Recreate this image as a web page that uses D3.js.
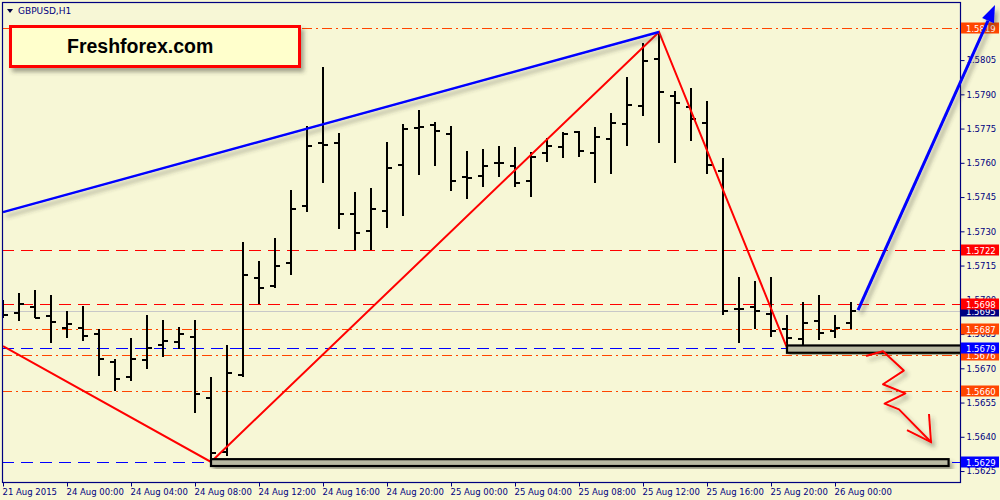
<!DOCTYPE html>
<html>
<head>
<meta charset="utf-8">
<script src="https://cdn.jsdelivr.net/npm/d3@7"></script>
<style>
  html, body { margin: 0; padding: 0; background: #f7f7d6; }
  svg { display: block; }
  .axis text { font-family: "DejaVu Sans", sans-serif; font-size: 8.5px; fill: #000080; }
  .axis line, .axis path { stroke: #000080; }
</style>
</head>
<body>
<div id="chart"></div>
<script>
// GBPUSD H1 bars, 21 Aug 2015 20:00 .. 26 Aug 2015 01:00
var opens  = [1.56955,1.56942,1.56968,1.56929,1.56876,1.56876,1.56850,1.56727,1.56662,1.56736,
              1.56802,1.56815,1.56837,1.56570,1.56333,1.56670,1.57095,1.57060,1.57161,1.57411,
              1.57687,1.57687,1.57376,1.57301,1.57389,1.57590,1.57752,1.57765,1.57726,1.57538,
              1.57542,1.57599,1.57586,1.57520,1.57643,1.57669,1.57735,1.57643,1.57704,1.57770,
              1.57849,1.58054,1.57892,1.57844,1.57774,1.57564,1.56960,1.56968,1.56938,1.56872,
              1.56828,1.56907,1.56863,1.56898];
var highs  = [1.56999,1.57030,1.57043,1.57021,1.56951,1.56973,1.56872,1.56741,1.56832,1.56933,
              1.56911,1.56881,1.56911,1.56662,1.56802,1.57253,1.57170,1.57270,1.57481,1.57761,
              1.58019,1.57730,1.57472,1.57489,1.57691,1.57770,1.57831,1.57778,1.57761,1.57652,
              1.57660,1.57673,1.57669,1.57647,1.57708,1.57735,1.57739,1.57757,1.57818,1.57976,
              1.58125,1.58173,1.57914,1.57927,1.57870,1.57621,1.57100,1.57082,1.57100,1.56933,
              1.56990,1.57021,1.56933,1.56990];
var lows   = [1.56920,1.56907,1.56920,1.56811,1.56832,1.56819,1.56666,1.56600,1.56644,1.56697,
              1.56749,1.56784,1.56504,1.56290,1.56316,1.56662,1.56981,1.57051,1.57108,1.57384,
              1.57511,1.57310,1.57218,1.57218,1.57314,1.57367,1.57546,1.57586,1.57476,1.57441,
              1.57494,1.57538,1.57494,1.57450,1.57603,1.57621,1.57625,1.57511,1.57551,1.57673,
              1.57805,1.57687,1.57599,1.57695,1.57551,1.56933,1.56811,1.56872,1.56837,1.56790,
              1.56790,1.56824,1.56832,1.56872];
var closes = [1.56933,1.56981,1.56920,1.56903,1.56894,1.56841,1.56741,1.56653,1.56741,1.56789,
              1.56819,1.56850,1.56587,1.56329,1.56679,1.57108,1.57051,1.57148,1.57397,1.57673,
              1.57678,1.57376,1.57292,1.57397,1.57577,1.57748,1.57757,1.57739,1.57520,1.57533,
              1.57586,1.57599,1.57511,1.57625,1.57673,1.57726,1.57652,1.57713,1.57774,1.57853,
              1.58046,1.57910,1.57862,1.57792,1.57590,1.56951,1.56960,1.56951,1.56863,1.56832,
              1.56898,1.56854,1.56876,1.56950];

var timeLabels = ["21 Aug 2015","24 Aug 00:00","24 Aug 04:00","24 Aug 08:00","24 Aug 12:00",
                  "24 Aug 16:00","24 Aug 20:00","25 Aug 00:00","25 Aug 04:00","25 Aug 08:00",
                  "25 Aug 12:00","25 Aug 16:00","25 Aug 20:00","26 Aug 00:00"];
var timeLabelBars = [0,4,8,12,16,20,24,28,32,36,40,44,48,52];

var priceTicks = [1.5625,1.5640,1.5655,1.5670,1.5685,1.5700,1.5715,1.5730,1.5745,1.5760,1.5775,1.5790,1.5805];

// horizontal levels
var levelPrices = [1.5819,1.5722,1.5698,1.5687,1.5676,1.5679,1.5660,1.5629];
var levelKinds  = ["dashdot","dash","dash","dashdot","dashdot","dash","dashdot","dash"];
var levelColors = ["#ff4500","#ff0000","#ff0000","#ff4500","#ff4500","#0000ff","#ff4500","#0000ff"];
var bidPrice = 1.5695;

// drawn objects: [bar index, price]
var blueTrend  = [[0, 1.57384],[41, 1.58173]];
var redZigzag  = [[0, 1.56797],[13, 1.5629],[41, 1.58173],[49, 1.5679]];
var blueArrow  = [[53.44, 1.56955],[62, 1.58291]];
var redSquiggle = [[53.94,1.56754],[55.0,1.56775],[56.3,1.56690],[55.0,1.56630],
                   [56.4,1.56590],[55.1,1.56545],[56.0,1.56520],[58,1.56377]];
var boxes = [[[49, 1.56800],[60.2, 1.56768]], [[13, 1.56302],[59.1, 1.56272]]];

var W = 1000, H = 500;
var plot = {left: 2, top: 2, right: 960, bottom: 482};

var svg = d3.select("#chart").append("svg").attr("width", W).attr("height", H);
svg.append("rect").attr("width", W).attr("height", H).attr("fill", "#f7f7d6");

var defs = svg.append("defs");
var f = defs.append("filter").attr("id", "shadow").attr("x", "-20%").attr("y", "-20%").attr("width", "150%").attr("height", "150%");
f.append("feDropShadow").attr("dx", 3).attr("dy", 4).attr("stdDeviation", 2.2)
  .attr("flood-color", "#404030").attr("flood-opacity", 0.45);
defs.append("clipPath").attr("id", "plotclip").append("rect")
  .attr("x", plot.left + 1).attr("y", plot.top + 1)
  .attr("width", plot.right - plot.left - 1).attr("height", plot.bottom - plot.top - 1);

var x = d3.scaleLinear().domain([0, 60]).range([3, 963]);
var y = d3.scaleLinear().domain([1.56202, 1.58300]).range([482, 3]);

var inner = svg.append("g").attr("clip-path", "url(#plotclip)");

// level lines
var dashes = {dash: "12,7", dashdot: "10,4,2,4"};
inner.append("line")
  .attr("x1", plot.left).attr("x2", plot.right)
  .attr("y1", Math.round(y(bidPrice)) + 0.5).attr("y2", Math.round(y(bidPrice)) + 0.5)
  .attr("stroke", "#c8c8c8").attr("stroke-width", 1);
levelPrices.forEach(function (p, i) {
  var yy = Math.round(y(p)) + 0.5;
  inner.append("line")
    .attr("x1", plot.left).attr("x2", plot.right)
    .attr("y1", yy).attr("y2", yy)
    .attr("stroke", levelColors[i]).attr("stroke-width", 1)
    .attr("stroke-dasharray", dashes[levelKinds[i]]);
});

// OHLC bars
var bars = d3.range(opens.length).map(function (i) {
  return {i: i, o: opens[i], h: highs[i], l: lows[i], c: closes[i]};
});
var bg = inner.append("g").attr("stroke", "#000").attr("shape-rendering", "crispEdges");
bg.selectAll("line.hl").data(bars).enter().append("line")
  .attr("x1", function (d) { return Math.round(x(d.i)); })
  .attr("x2", function (d) { return Math.round(x(d.i)); })
  .attr("y1", function (d) { return Math.round(y(d.h)); })
  .attr("y2", function (d) { return Math.round(y(d.l)); })
  .attr("stroke-width", 2);
bg.selectAll("line.op").data(bars).enter().append("line")
  .attr("x1", function (d) { return Math.round(x(d.i)) - 5; })
  .attr("x2", function (d) { return Math.round(x(d.i)); })
  .attr("y1", function (d) { return Math.round(y(d.o)); })
  .attr("y2", function (d) { return Math.round(y(d.o)); })
  .attr("stroke-width", 2);
bg.selectAll("line.cl").data(bars).enter().append("line")
  .attr("x1", function (d) { return Math.round(x(d.i)); })
  .attr("x2", function (d) { return Math.round(x(d.i)) + 5; })
  .attr("y1", function (d) { return Math.round(y(d.c)); })
  .attr("y2", function (d) { return Math.round(y(d.c)); })
  .attr("stroke-width", 2);

var line = d3.line().x(function (d) { return x(d[0]); }).y(function (d) { return y(d[1]); });

inner.append("path").datum(redZigzag).attr("d", line)
  .attr("fill", "none").attr("stroke", "#ff0000").attr("stroke-width", 2);
inner.append("path").datum(blueTrend).attr("d", line)
  .attr("fill", "none").attr("stroke", "#0000ff").attr("stroke-width", 2.5)
  .attr("filter", "url(#shadow)");

// rectangles (unclipped, they run over the price scale)
boxes.forEach(function (b) {
  svg.append("rect")
    .attr("x", x(b[0][0])).attr("y", y(b[0][1]))
    .attr("width", x(b[1][0]) - x(b[0][0]))
    .attr("height", y(b[1][1]) - y(b[0][1]))
    .attr("fill", "#b9b9a2").attr("stroke", "#000").attr("stroke-width", 2.2)
    .attr("filter", "url(#shadow)");
});

// frame
svg.append("rect")
  .attr("x", plot.left + 0.5).attr("y", plot.top + 0.5)
  .attr("width", plot.right - plot.left).attr("height", plot.bottom - plot.top)
  .attr("fill", "none").attr("stroke", "#000080").attr("stroke-width", 1.2);

// price axis
var ya = svg.append("g").attr("class", "axis").attr("transform", "translate(" + (plot.right + 0.5) + ",0)")
  .call(d3.axisRight(y).tickValues(priceTicks).tickSize(4).tickPadding(2).tickFormat(d3.format(".4f")));
ya.select(".domain").remove();

// time axis
var xa = svg.append("g").attr("class", "axis").attr("transform", "translate(0," + (plot.bottom + 0.5) + ")")
  .call(d3.axisBottom(x).tickValues(timeLabelBars).tickSize(4)
    .tickFormat(function (d, i) { return timeLabels[i]; }));
xa.select(".domain").remove();
xa.selectAll("text").attr("text-anchor", "start").attr("dx", "-1").attr("y", 6);

// price labels on the scale
function priceBox(p, color) {
  var yy = Math.round(y(p));
  svg.append("rect").attr("x", 961).attr("y", yy - 5.5).attr("width", 38).attr("height", 11).attr("fill", color);
  svg.append("text").attr("x", 966).attr("y", yy + 3.5)
    .attr("font-family", "DejaVu Sans, sans-serif").attr("font-size", "8.5px").attr("fill", "#fff")
    .text(d3.format(".4f")(p));
}
priceBox(bidPrice, "#000080");
levelPrices.forEach(function (p, i) { priceBox(p, levelColors[i]); });

// blue arrow (over the price scale)
var a0 = [x(blueArrow[0][0]), y(blueArrow[0][1])], a1 = [x(blueArrow[1][0]), y(blueArrow[1][1])];
var ang = Math.atan2(a1[1] - a0[1], a1[0] - a0[0]);
var hl = 17, hw = 6.5;
var base = [a1[0] - hl * Math.cos(ang), a1[1] - hl * Math.sin(ang)];
var ag = svg.append("g").attr("filter", "url(#shadow)");
ag.append("line").attr("x1", a0[0]).attr("y1", a0[1]).attr("x2", base[0]).attr("y2", base[1])
  .attr("stroke", "#0000ff").attr("stroke-width", 3);
ag.append("path")
  .attr("d", "M" + a1 + "L" + [base[0] + hw * Math.sin(ang), base[1] - hw * Math.cos(ang)] +
    "L" + [base[0] - hw * Math.sin(ang), base[1] + hw * Math.cos(ang)] + "Z")
  .attr("fill", "#0000ff");

// red hand-drawn arrow
var sq = svg.append("g").attr("filter", "url(#shadow)");
sq.append("path").datum(redSquiggle).attr("d", line)
  .attr("fill", "none").attr("stroke", "#ff0000").attr("stroke-width", 2).attr("stroke-linejoin", "round");
var tip = redSquiggle[redSquiggle.length - 1];
var tx = x(tip[0]), ty = y(tip[1]);
sq.append("path").attr("d", "M" + (tx - 2) + "," + (ty - 28) + "L" + tx + "," + ty + "L" + (tx - 24) + "," + (ty - 12))
  .attr("fill", "none").attr("stroke", "#ff0000").attr("stroke-width", 2);

// title
svg.append("path").attr("d", "M7,9L13,9L10,13Z").attr("fill", "#000040");
svg.append("text").attr("x", 18).attr("y", 14)
  .attr("font-family", "DejaVu Sans, sans-serif").attr("font-size", "9px").attr("fill", "#000080")
  .text("GBPUSD,H1");

// logo box
svg.append("rect").attr("x", 10.5).attr("y", 26.5).attr("width", 289).attr("height", 40)
  .attr("fill", "#ffffcc").attr("stroke", "#ff0000").attr("stroke-width", 3)
  .attr("filter", "url(#shadow)");
svg.append("text").attr("x", 67).attr("y", 52.5)
  .attr("font-family", "Liberation Sans, Arial, sans-serif").attr("font-weight", "bold")
  .attr("font-size", "19.5px").attr("fill", "#000").text("Freshforex.com");
</script>
</body>
</html>
